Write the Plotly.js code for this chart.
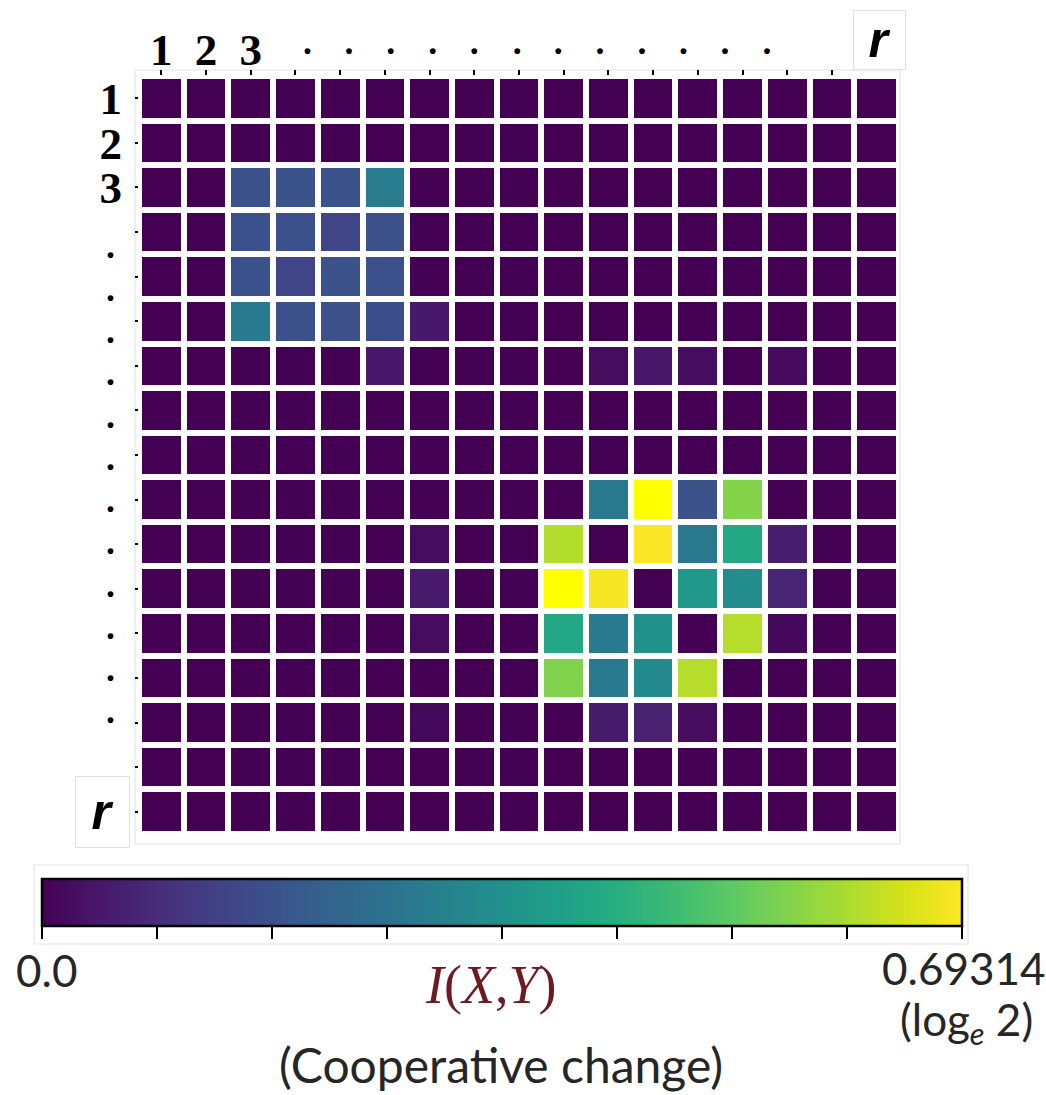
<!DOCTYPE html>
<html>
<head>
<meta charset="utf-8">
<script src="https://cdn.plot.ly/plotly-3.0.1.min.js"></script>
<style>html,body{margin:0;padding:0;background:#fff;}#chart{width:1046px;height:1095px;}</style>
</head>
<body>
<div id="chart"></div>
<script>
// ---- data ----
const colIdx = [1,2,3,4,5,6,7,8,9,10,11,12,13,14,15,16,17];
const rowIdx = [1,2,3,4,5,6,7,8,9,10,11,12,13,14,15,16,17];
const colTickPos = [1,2,3,4,5,6,7,8,9,10,11,12,13,14,15,16];
const numLabelPos = [1,2,3];
const numLabels = ["1","2","3"];
const xDotPos = [4.27,5.2,6.13,7.07,8.0,8.96,9.88,10.81,11.75,12.68,13.61,14.55];
const yDotPos = [4.31,5.26,6.21,7.15,8.11,9.05,10.0,10.94,11.91,12.85,13.78,14.72];
const dotText = [".",".",".",".",".",".",".",".",".",".",".","."];
const zMax = 0.69314;
// mutual information I(X,Y) per cell, rows 1..17 (top to bottom), cols 1..17
const row01 = [0,0,0,0,0,0,0,0,0,0,0,0,0,0,0,0,0];
const row02 = [0,0,0,0,0,0,0,0,0,0,0,0,0,0,0,0,0];
const row03 = [0,0,0.173,0.176,0.178,0.285,0,0,0,0,0,0,0,0,0,0,0];
const row04 = [0,0,0.172,0.170,0.142,0.168,0,0,0,0,0,0,0,0,0,0,0];
const row05 = [0,0,0.172,0.142,0.174,0.170,0,0,0,0,0,0,0,0,0,0,0];
const row06 = [0,0,0.282,0.170,0.168,0.165,0.045,0,0,0,0,0,0,0,0,0,0];
const row07 = [0,0,0,0,0,0.045,0,0,0,0,0.022,0.042,0.024,0,0.018,0,0];
const row08 = [0,0,0,0,0,0,0,0,0,0,0,0,0,0,0,0,0];
const row09 = [0,0,0,0,0,0,0,0,0,0,0,0,0,0,0,0,0];
const row10 = [0,0,0,0,0,0,0,0,0,0,0.280,0.69314,0.173,0.565,0,0,0];
const row11 = [0,0,0,0,0,0,0.022,0,0,0.615,0,0.688,0.278,0.415,0.055,0,0];
const row12 = [0,0,0,0,0,0,0.048,0,0,0.69314,0.686,0,0.372,0.332,0.068,0,0];
const row13 = [0,0,0,0,0,0,0.022,0,0,0.412,0.282,0.348,0,0.618,0.015,0,0];
const row14 = [0,0,0,0,0,0,0,0,0,0.562,0.282,0.330,0.618,0,0,0,0];
const row15 = [0,0,0,0,0,0,0.015,0,0,0,0.052,0.062,0.020,0,0,0,0];
const row16 = [0,0,0,0,0,0,0,0,0,0,0,0,0,0,0,0,0];
const row17 = [0,0,0,0,0,0,0,0,0,0,0,0,0,0,0,0,0];
const zData = [row01,row02,row03,row04,row05,row06,row07,row08,row09,row10,row11,row12,row13,row14,row15,row16,row17];

// ---- style ----
const viridis = [
  [0,'#440154'],[0.0627,'#48186a'],[0.1255,'#472d7b'],[0.1882,'#424086'],
  [0.2510,'#3b528b'],[0.3137,'#33638d'],[0.3765,'#2c728e'],[0.4392,'#26828e'],
  [0.5020,'#21918c'],[0.5647,'#1fa088'],[0.6275,'#28ae80'],[0.6902,'#3fbc73'],
  [0.7529,'#5ec962'],[0.8157,'#84d44b'],[0.8784,'#addc30'],[0.9412,'#d8e219'],
  [0.999,'#fde725'],[1,'#ffff00']
];
const W = 1046, H = 1095;
const L = 139, T = 76, PW = 760, PH = 758;
const px = X => (X - L) / PW;
const py = Y => (T + PH - Y) / PH;

const labelFont = {family: 'Liberation Serif', size: 45, color: '#000', weight: 'bold'};
const dotFont = {family: 'Liberation Serif', size: 36, color: '#000', weight: 'bold'};
const sansFont = {family: 'Lato', size: 44, color: '#262626'};
const hidden = {showgrid: false, zeroline: false, showline: false, fixedrange: true};

const traces = [
  {
    type: 'heatmap', x: colIdx, y: rowIdx, z: zData,
    zmin: 0, zmax: zMax, colorscale: viridis,
    xgap: 6, ygap: 6, hoverinfo: 'z',
    colorbar: {
      orientation: 'h', x: px(502), xanchor: 'center',
      y: py(879), yanchor: 'top',
      len: 920, lenmode: 'pixels', thickness: 47, thicknessmode: 'pixels',
      outlinewidth: 2.5, outlinecolor: '#000',
      ticks: 'outside', ticklen: 12, tickwidth: 2, tickcolor: '#000',
      showticklabels: false, tick0: 0, dtick: zMax / 8,
      xpad: 0, ypad: 0
    }
  },
  {type: 'scatter', x: [], y: [], xaxis: 'x2', yaxis: 'y2', showlegend: false, hoverinfo: 'skip'},
  {type: 'scatter', x: [], y: [], xaxis: 'x3', yaxis: 'y3', showlegend: false, hoverinfo: 'skip'}
];

const layout = {
  width: W, height: H,
  margin: {l: L, r: W - L - PW, t: T, b: H - T - PH, pad: 0},
  paper_bgcolor: '#fff', plot_bgcolor: '#fff',
  showlegend: false,
  xaxis: Object.assign({
    side: 'top', range: [0.5, 17.5], tickmode: 'array', tickvals: colTickPos,
    ticks: 'outside', ticklen: 5, tickwidth: 2, tickcolor: '#000', showticklabels: false
  }, hidden),
  xaxis2: Object.assign({
    overlaying: 'x', side: 'top', range: [0.5, 17.5], tickmode: 'array',
    tickvals: numLabelPos, ticktext: numLabels, ticks: '',
    tickfont: labelFont, ticklabelstandoff: 1
  }, hidden),
  xaxis3: Object.assign({
    overlaying: 'x', side: 'top', range: [0.5, 17.5], tickmode: 'array',
    tickvals: xDotPos, ticktext: dotText, ticks: '',
    tickfont: dotFont, ticklabelstandoff: 14
  }, hidden),
  yaxis: Object.assign({
    range: [17.5, 0.5], tickmode: 'array', tickvals: rowIdx,
    ticks: 'outside', ticklen: 3, tickwidth: 2, tickcolor: '#000', showticklabels: false
  }, hidden),
  yaxis2: Object.assign({
    overlaying: 'y', side: 'left', range: [17.5, 0.5], tickmode: 'array',
    tickvals: numLabelPos, ticktext: numLabels, ticks: '',
    tickfont: labelFont, ticklabelstandoff: 16
  }, hidden),
  yaxis3: Object.assign({
    overlaying: 'y', side: 'left', range: [17.5, 0.5], tickmode: 'array',
    tickvals: yDotPos, ticktext: dotText, ticks: '',
    tickfont: dotFont, ticklabelstandoff: 23
  }, hidden),
  shapes: [
    {type: 'rect', xref: 'paper', yref: 'paper', x0: px(135), x1: px(900), y0: py(844), y1: py(70),
     line: {color: '#e4e4e4', width: 1.2}, fillcolor: 'rgba(0,0,0,0)', layer: 'below'},
    {type: 'rect', xref: 'paper', yref: 'paper', x0: px(34), x1: px(968), y0: py(944), y1: py(865),
     line: {color: '#e4e4e4', width: 1.2}, fillcolor: 'rgba(0,0,0,0)', layer: 'below'}
  ],
  annotations: [
    {xref: 'paper', yref: 'paper', x: px(879.5), y: py(40), xanchor: 'center', yanchor: 'middle',
     text: '<b><i>r</i></b>', showarrow: false, width: 51, height: 58, borderpad: 0,
     bordercolor: '#e0e0e0', borderwidth: 1, bgcolor: '#fff',
     font: {family: 'Liberation Sans', size: 50, color: '#000'}},
    {xref: 'paper', yref: 'paper', x: px(102.5), y: py(812), xanchor: 'center', yanchor: 'middle',
     text: '<b><i>r</i></b>', showarrow: false, width: 53, height: 70, borderpad: 0,
     bordercolor: '#e0e0e0', borderwidth: 1, bgcolor: '#fff',
     font: {family: 'Liberation Sans', size: 50, color: '#000'}},
    {xref: 'paper', yref: 'paper', x: px(46), y: py(970), xanchor: 'center', yanchor: 'middle',
     text: '0.0', showarrow: false, font: sansFont},
    {xref: 'paper', yref: 'paper', x: px(964), y: py(968), xanchor: 'center', yanchor: 'middle',
     text: String(zMax), showarrow: false, font: sansFont},
    {xref: 'paper', yref: 'paper', x: px(966), y: py(1022), xanchor: 'center', yanchor: 'middle',
     text: '(log<sub><i>e</i></sub> 2)', showarrow: false, font: sansFont},
    {xref: 'paper', yref: 'paper', x: px(491), y: py(985), xanchor: 'center', yanchor: 'middle',
     text: '<i>I</i>(<i>X</i>,<i>Y</i>)', showarrow: false,
     font: {family: 'Liberation Serif', size: 54, color: '#6d1a22'}},
    {xref: 'paper', yref: 'paper', x: px(501), y: py(1064), xanchor: 'center', yanchor: 'middle',
     text: '(Cooperative change)', showarrow: false, font: {family: 'Lato', size: 48, color: '#262626'}}
  ]
};

Plotly.newPlot('chart', traces, layout, {displayModeBar: false, staticPlot: true});
</script>
</body>
</html>
